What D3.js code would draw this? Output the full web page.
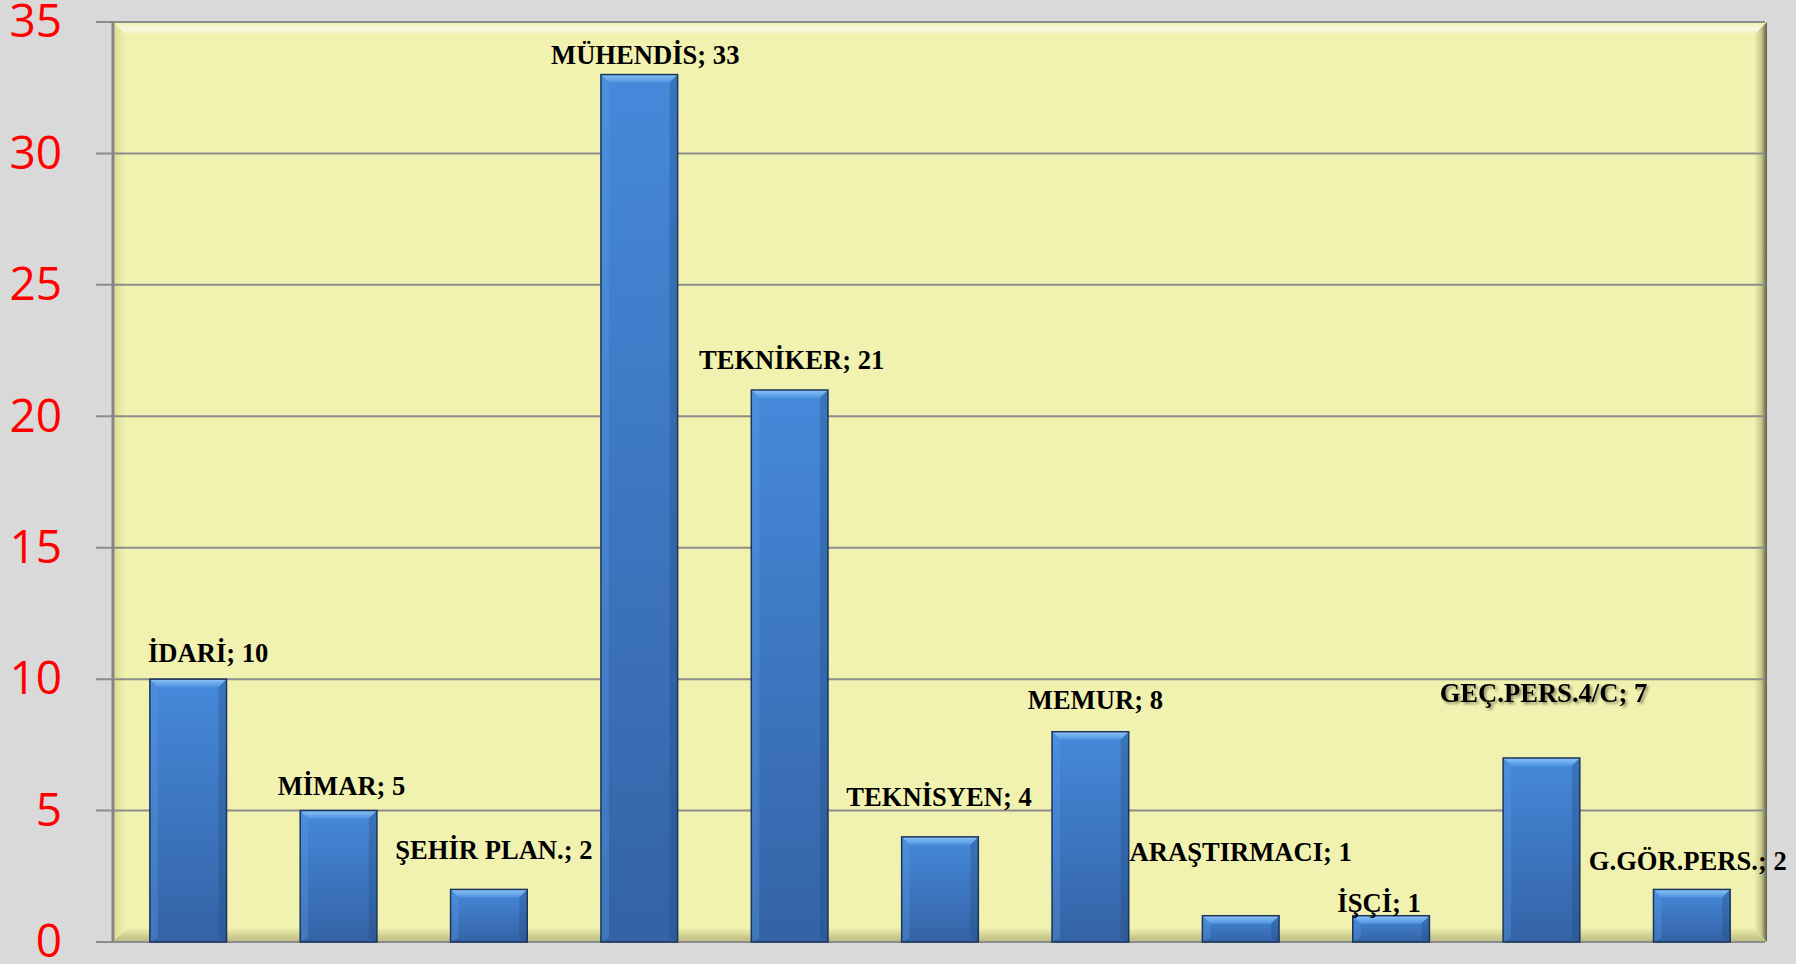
<!DOCTYPE html>
<html>
<head>
<meta charset="utf-8">
<script src="https://cdn.jsdelivr.net/npm/d3@7"></script>
<style>
  html, body { margin: 0; padding: 0; background: #ffffff; }
  #grafik { width: 1805px; height: 964px; }
</style>
</head>
<body>
<div id="grafik"></div>
<script>
const kategoriler = ["İDARİ", "MİMAR", "ŞEHİR PLAN.", "MÜHENDİS", "TEKNİKER", "TEKNİSYEN",
                     "MEMUR", "ARAŞTIRMACI", "İŞÇİ", "GEÇ.PERS.4/C", "G.GÖR.PERS."];
const degerler = [10, 5, 2, 33, 21, 4, 8, 1, 1, 7, 2];
const yTikler = [0, 5, 10, 15, 20, 25, 30, 35];

// etiketlerin elle kaydirilmis yerleri (px), Excel'deki gibi
const etiketKaydir = [[20, -17], [3, -16], [5, -30], [6, -11], [2, -21], [-1, -31],
                      [5, -23], [0, -55], [-12, -4], [2, -56], [-4, -19]];

function grafikCiz() {
    const width = 1805, height = 964;
    const sol = 113, sag = 1767, ust = 22, alt = 942;

    d3.select("#grafik svg").remove();
    const svg = d3.select("#grafik")
        .append("svg")
        .attr("width", width)
        .attr("height", height);

    const defs = svg.append("defs");

    const barGrad = defs.append("linearGradient").attr("id", "barGrad")
        .attr("x1", 0).attr("y1", 0).attr("x2", 0).attr("y2", 1);
    barGrad.append("stop").attr("offset", "0%").attr("stop-color", "#4689da");
    barGrad.append("stop").attr("offset", "100%").attr("stop-color", "#3463a6");

    const ustGrad = defs.append("linearGradient").attr("id", "ustGrad")
        .attr("x1", 0).attr("y1", 0).attr("x2", 0).attr("y2", 1);
    ustGrad.append("stop").attr("offset", "0%").attr("stop-color", "#8cc4f8");
    ustGrad.append("stop").attr("offset", "100%").attr("stop-color", "#4f93e0");

    const sagDuvar = defs.append("linearGradient").attr("id", "sagDuvar")
        .attr("x1", 0).attr("y1", 0).attr("x2", 1).attr("y2", 0);
    sagDuvar.append("stop").attr("offset", "0%").attr("stop-color", "#f2f2b0");
    sagDuvar.append("stop").attr("offset", "55%").attr("stop-color", "#c9c98e");
    sagDuvar.append("stop").attr("offset", "100%").attr("stop-color", "#5e5e48");

    const ustDuvar = defs.append("linearGradient").attr("id", "ustDuvar")
        .attr("x1", 0).attr("y1", 0).attr("x2", 0).attr("y2", 1);
    ustDuvar.append("stop").attr("offset", "0%").attr("stop-color", "#efefae");
    ustDuvar.append("stop").attr("offset", "55%").attr("stop-color", "#f8f8e4");
    ustDuvar.append("stop").attr("offset", "100%").attr("stop-color", "#f2f2b0");

    const solDuvar = defs.append("linearGradient").attr("id", "solDuvar")
        .attr("x1", 0).attr("y1", 0).attr("x2", 1).attr("y2", 0);
    solDuvar.append("stop").attr("offset", "0%").attr("stop-color", "#dcdc96");
    solDuvar.append("stop").attr("offset", "100%").attr("stop-color", "#f2f2b0");

    const altDuvar = defs.append("linearGradient").attr("id", "altDuvar")
        .attr("x1", 0).attr("y1", 0).attr("x2", 0).attr("y2", 1);
    altDuvar.append("stop").attr("offset", "0%").attr("stop-color", "#ebeba8");
    altDuvar.append("stop").attr("offset", "100%").attr("stop-color", "#b8b882");

    const golge = defs.append("filter").attr("id", "golge")
        .attr("x", "-10%").attr("y", "-30%").attr("width", "130%").attr("height", "170%");
    golge.append("feDropShadow").attr("dx", 2).attr("dy", 2).attr("stdDeviation", 1.5)
        .attr("flood-color", "#000").attr("flood-opacity", 0.45);

    // arka plan
    svg.append("rect").attr("width", 1796).attr("height", height).attr("fill", "#d9d9d9");

    const x = d3.scaleBand()
        .domain(kategoriler)
        .range([sol, sag])
        .paddingInner(0.49)
        .paddingOuter(0.245);

    const y = d3.scaleLinear()
        .domain([0, 35])
        .range([alt, ust]);

    // cizim alani (duvar)
    const b = 13;
    svg.append("rect").attr("x", sol).attr("y", ust)
        .attr("width", sag - sol).attr("height", alt - ust).attr("fill", "#f2f2b0");
    svg.append("polygon")
        .attr("points", [[sol, ust], [sag, ust], [sag - b, ust + b], [sol + b, ust + b]].join(" "))
        .attr("fill", "url(#ustDuvar)");
    svg.append("polygon")
        .attr("points", [[sol, ust], [sol + b, ust + b], [sol + b, alt - b], [sol, alt]].join(" "))
        .attr("fill", "url(#solDuvar)");
    svg.append("polygon")
        .attr("points", [[sol, alt], [sol + b, alt - b], [sag - b, alt - b], [sag, alt]].join(" "))
        .attr("fill", "url(#altDuvar)");
    svg.append("polygon")
        .attr("points", [[sag, ust], [sag, alt], [sag - b, alt - b], [sag - b, ust + b]].join(" "))
        .attr("fill", "url(#sagDuvar)");

    // izgara cizgileri
    svg.append("g")
        .selectAll("line")
        .data(yTikler)
        .enter().append("line")
        .attr("x1", sol - 17)
        .attr("x2", sag - 2)
        .attr("y1", d => y(d))
        .attr("y2", d => y(d))
        .attr("stroke", "#8c8c8c")
        .attr("stroke-width", 2);

    svg.append("line")
        .attr("x1", sol).attr("x2", sol).attr("y1", ust).attr("y2", alt)
        .attr("stroke", "#858585").attr("stroke-width", 3);

    // y ekseni yazilari
    const yEksen = d3.axisLeft(y).tickValues(yTikler).tickSize(0).tickPadding(51);
    const eksenG = svg.append("g")
        .attr("transform", `translate(${sol},0)`)
        .call(yEksen);
    eksenG.select(".domain").remove();
    eksenG.selectAll("text")
        .attr("fill", "#ff0000")
        .style("font-family", "'Open Sans', sans-serif")
        .style("font-size", "46px");

    // cubuklar
    const bv = 8;
    const cubuklar = svg.append("g")
        .selectAll("g")
        .data(degerler)
        .enter().append("g");

    cubuklar.each(function (d, i) {
        const g = d3.select(this);
        const x0 = x(kategoriler[i]);
        const x1 = x0 + x.bandwidth();
        const y0 = y(d);
        const y1 = y(0);
        g.append("rect")
            .attr("x", x0).attr("y", y0)
            .attr("width", x1 - x0).attr("height", y1 - y0)
            .attr("fill", "url(#barGrad)");
        g.append("polygon")
            .attr("points", [[x0, y0], [x1, y0], [x1 - bv, y0 + bv], [x0 + bv, y0 + bv]].join(" "))
            .attr("fill", "url(#ustGrad)");
        g.append("polygon")
            .attr("points", [[x0, y0], [x0 + bv, y0 + bv], [x0 + bv, y1 - 4], [x0, y1]].join(" "))
            .attr("fill", "#5a9ae4").attr("opacity", 0.35);
        g.append("polygon")
            .attr("points", [[x1, y0], [x1 - bv, y0 + bv], [x1 - bv, y1 - 4], [x1, y1]].join(" "))
            .attr("fill", "#1f4577").attr("opacity", 0.3);
        g.append("rect")
            .attr("x", x0).attr("y", y0)
            .attr("width", x1 - x0).attr("height", y1 - y0)
            .attr("fill", "none")
            .attr("stroke", "#1b355c")
            .attr("stroke-width", 1.5);
    });

    // veri etiketleri
    svg.append("g")
        .selectAll("text")
        .data(degerler)
        .enter().append("text")
        .attr("x", (d, i) => x(kategoriler[i]) + x.bandwidth() / 2 + etiketKaydir[i][0])
        .attr("y", (d, i) => y(d) + etiketKaydir[i][1])
        .attr("text-anchor", "middle")
        .attr("filter", (d, i) => i === 9 ? "url(#golge)" : null)
        .style("font-family", "'Liberation Serif', 'Times New Roman', serif")
        .style("font-weight", "bold")
        .style("font-size", "26.6px")
        .attr("fill", "#000")
        .text((d, i) => kategoriler[i] + "; " + d);
}

grafikCiz();
</script>
</body>
</html>
